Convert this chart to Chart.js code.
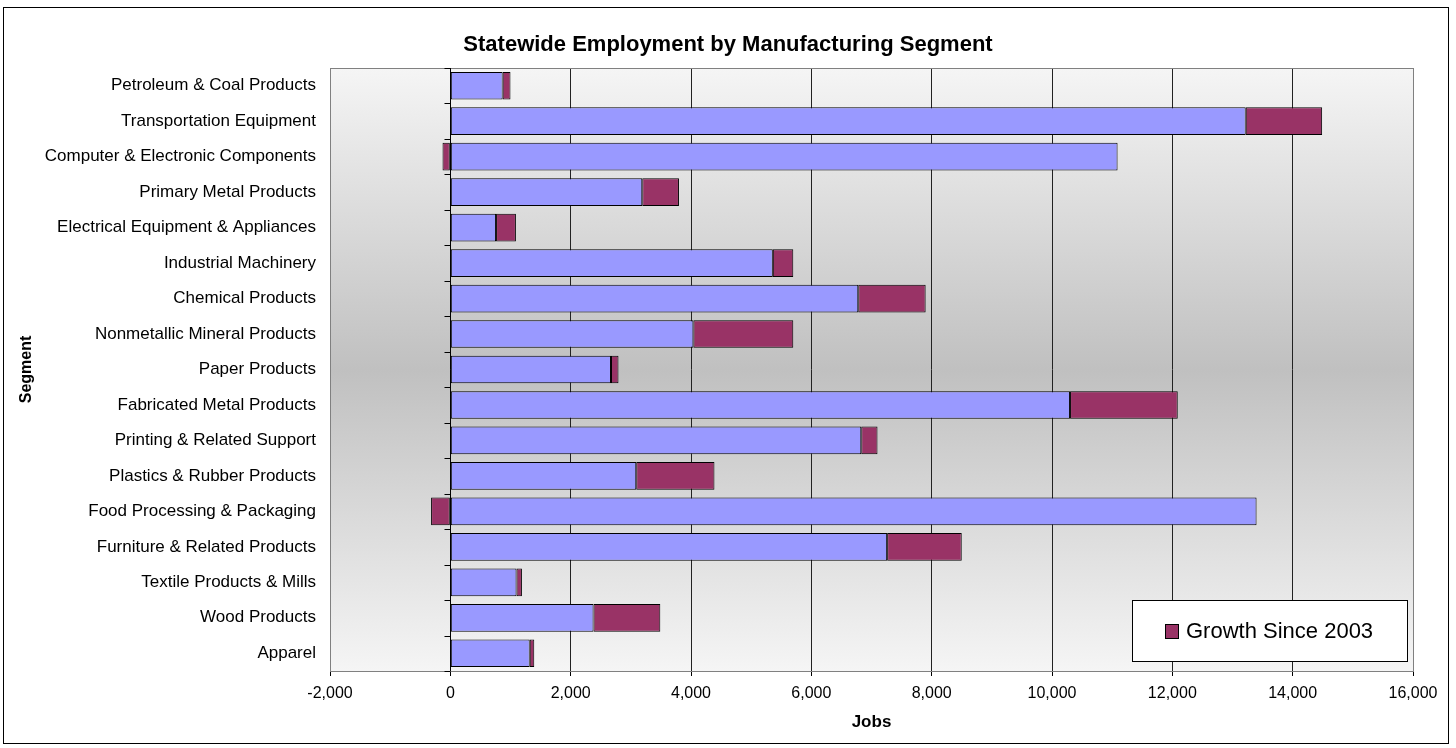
<!DOCTYPE html>
<html>
<head>
<meta charset="utf-8">
<script src="https://cdn.jsdelivr.net/npm/chart.js@4.4.1/dist/chart.umd.min.js"></script>
<style>
html,body{margin:0;padding:0;background:#fff;}
#wrap{position:relative;width:1456px;height:748px;}
</style>
</head>
<body>
<div id="wrap"><canvas id="c" width="1456" height="748"></canvas></div>
<script>
const categories = [
  "Petroleum & Coal Products",
  "Transportation Equipment",
  "Computer & Electronic Components",
  "Primary Metal Products",
  "Electrical Equipment & Appliances",
  "Industrial Machinery",
  "Chemical Products",
  "Nonmetallic Mineral Products",
  "Paper Products",
  "Fabricated Metal Products",
  "Printing & Related Support",
  "Plastics & Rubber Products",
  "Food Processing & Packaging",
  "Furniture & Related Products",
  "Textile Products & Mills",
  "Wood Products",
  "Apparel"
];
const baseJobs = [870, 13220, 11090, 3190, 760, 5360, 6780, 4040, 2670, 10300, 6830, 3090, 13400, 7260, 1100, 2380, 1320];
const growthSince2003 = [130, 1270, -130, 610, 330, 340, 1120, 1660, 125, 1790, 270, 1300, -320, 1240, 90, 1110, 75];
const xMin = -2000, xMax = 16000, xStep = 2000;
const chartTitle = "Statewide Employment by Manufacturing Segment";
const xTitle = "Jobs";
const yTitle = "Segment";
const growthLabel = "Growth Since 2003";

const FONT = "'Liberation Sans', Arial, sans-serif";

const decor = {
  id: 'decor',
  beforeDraw(chart) {
    const {ctx, chartArea: a} = chart;
    ctx.save();
    const g = ctx.createLinearGradient(0, a.top, 0, a.bottom);
    g.addColorStop(0, '#F5F5F5');
    g.addColorStop(0.5, '#C0C0C0');
    g.addColorStop(1, '#F5F5F5');
    ctx.fillStyle = g;
    ctx.fillRect(a.left, a.top, a.right - a.left, a.bottom - a.top);
    ctx.strokeStyle = '#000';
    ctx.lineWidth = 1;
    ctx.strokeRect(3.5, 7.5, 1445, 736);
    ctx.restore();
  },
  beforeDatasetsDraw(chart) {
    const {ctx, chartArea: a, scales} = chart;
    const x0 = Math.round(scales.x.getPixelForValue(0)) + 0.5;
    ctx.save();
    ctx.strokeStyle = '#808080';
    ctx.lineWidth = 1;
    ctx.strokeRect(Math.round(a.left) + 0.5, Math.round(a.top) + 0.5, Math.round(a.right - a.left), Math.round(a.bottom - a.top));
    ctx.strokeStyle = '#000';
    ctx.beginPath();
    ctx.moveTo(x0, a.top);
    ctx.lineTo(x0, a.bottom);
    const y = scales.y;
    for (let i = 0; i <= categories.length; i++) {
      const py = Math.round(y.getPixelForValue(i - 0.5)) + 0.5;
      ctx.moveTo(x0 - 6, py);
      ctx.lineTo(x0, py);
    }
    ctx.stroke();
    ctx.restore();
  },
  afterDraw(chart) {
    const {ctx} = chart;
    const ds = chart.data.datasets[1];
    ctx.save();
    ctx.fillStyle = '#fff';
    ctx.fillRect(1132.5, 600.5, 275, 61);
    ctx.strokeStyle = '#000';
    ctx.lineWidth = 1;
    ctx.strokeRect(1132.5, 600.5, 275, 61);
    ctx.fillStyle = ds.backgroundColor;
    ctx.fillRect(1165, 624, 14, 15);
    ctx.strokeRect(1165.5, 624.5, 13, 14);
    ctx.fillStyle = '#000';
    ctx.font = '22px ' + FONT;
    ctx.textBaseline = 'middle';
    ctx.textAlign = 'left';
    ctx.fillText(ds.label, 1186, 632);
    ctx.restore();
  }
};

new Chart(document.getElementById('c'), {
  type: 'bar',
  data: {
    labels: categories,
    datasets: [
      {
        label: 'Jobs',
        data: baseJobs,
        backgroundColor: '#9999FF',
        borderColor: '#000',
        borderWidth: 1,
        borderSkipped: false,
        categoryPercentage: 1,
        barPercentage: 0.78
      },
      {
        label: growthLabel,
        data: growthSince2003,
        backgroundColor: '#993366',
        borderColor: '#000',
        borderWidth: 1,
        borderSkipped: false,
        categoryPercentage: 1,
        barPercentage: 0.78
      }
    ]
  },
  options: {
    indexAxis: 'y',
    responsive: false,
    animation: false,
    devicePixelRatio: 1,
    layout: { padding: { left: 43, right: 43, top: 0, bottom: 4 } },
    plugins: {
      legend: { display: false },
      tooltip: { enabled: false },
      title: {
        display: true,
        text: chartTitle,
        color: '#000',
        font: { family: FONT, size: 22, weight: 'bold' },
        padding: { top: 31.8, bottom: 9.8 }
      }
    },
    scales: {
      x: {
        stacked: true,
        min: xMin,
        max: xMax,
        afterFit(s) { s.height = 73; },
        ticks: {
          stepSize: xStep,
          color: '#000',
          font: { family: FONT, size: 16 },
          padding: 8,
          maxRotation: 0,
          callback: v => Number(v).toLocaleString('en-US')
        },
        grid: { color: '#222', lineWidth: 1, drawTicks: true, tickLength: 5, tickColor: '#000' },
        border: { display: true, color: '#808080' },
        title: {
          display: true,
          text: xTitle,
          color: '#000',
          font: { family: FONT, size: 17, weight: 'bold' },
          padding: { top: 0, bottom: 11 }
        }
      },
      y: {
        stacked: true,
        afterFit(s) { s.width = 287; },
        ticks: {
          color: '#000',
          font: { family: FONT, size: 17 },
          padding: 14,
          autoSkip: false
        },
        grid: { display: false, drawTicks: false },
        border: { display: false },
        title: {
          display: true,
          text: yTitle,
          color: '#000',
          font: { family: FONT, size: 16, weight: 'bold' },
          padding: { top: -25.6, bottom: 0 }
        }
      }
    }
  },
  plugins: [decor]
});
</script>
</body>
</html>
